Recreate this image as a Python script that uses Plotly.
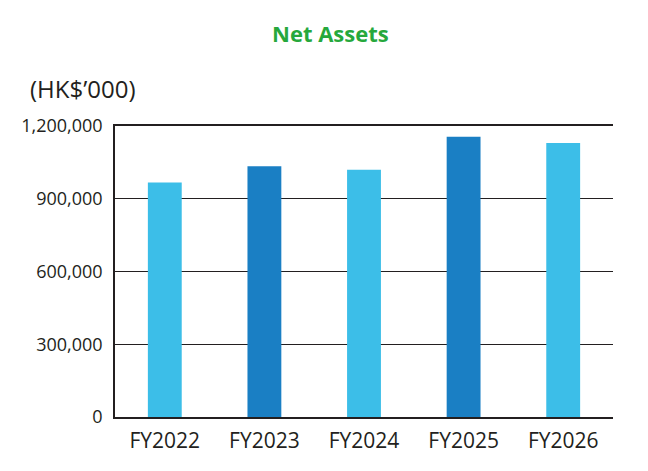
import plotly.graph_objects as go

categories = ["FY2022", "FY2023", "FY2024", "FY2025", "FY2026"]
net_assets = [967000, 1034000, 1020000, 1156000, 1130000]
bar_colors = ["#3cbee8", "#1a7fc4", "#3cbee8", "#1a7fc4", "#3cbee8"]
tick_vals = [0, 300000, 600000, 900000, 1200000]
tick_text = ["0", "300,000", "600,000", "900,000", "1,200,000"]

font_family = "Open Sans"
text_color = "#231f20"

W, H = 648, 471
ML, MR, MT, MB = 107, 43, 118, 62

fig = go.Figure(go.Bar(
    x=categories, y=net_assets,
    marker=dict(color=bar_colors, line=dict(width=0)),
    hoverinfo="x+y",
))

pw, ph = W - ML - MR, H - MT - MB
def px(x): return (x - ML) / pw
def py(y): return (H - MB - y) / ph

fig.update_layout(
    width=W, height=H,
    margin=dict(l=ML, r=MR, t=MT, b=MB),
    paper_bgcolor="white", plot_bgcolor="white",
    bargap=0.66,
    showlegend=False,
    font=dict(family=font_family, color=text_color, size=17),
    xaxis=dict(
        showgrid=False, showline=True, linecolor=text_color, linewidth=1.8,
        mirror=True, ticks="", ticklabelstandoff=4,
        tickfont=dict(size=21, color=text_color),
    ),
    yaxis=dict(
        range=[0, 1200000], tickvals=tick_vals, ticktext=tick_text,
        showgrid=True, gridcolor=text_color, gridwidth=1.4,
        showline=True, linecolor=text_color, linewidth=1.5,
        zeroline=False, ticks="", ticklabelstandoff=7,
        tickfont=dict(size=18, color=text_color),
    ),
    annotations=[
        dict(text="<b>Net Assets</b>", x=px(322), y=py(25), xref="paper", yref="paper",
             xanchor="center", yanchor="middle", showarrow=False,
             font=dict(size=22, color="#26a83c", family=font_family)),
        dict(text="(HK$’000)", x=px(20), y=py(80), xref="paper", yref="paper",
             xanchor="left", yanchor="middle", showarrow=False,
             font=dict(size=24, color=text_color, family=font_family)),
    ],
)

fig.write_html("out.html")
